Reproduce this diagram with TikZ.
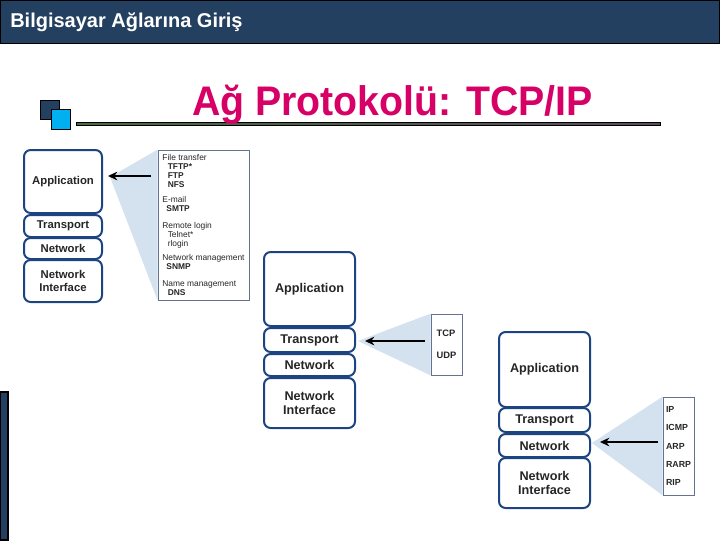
\documentclass[tikz,border=0pt]{standalone}
\usepackage{fontspec}
\setmainfont{Liberation Sans}
\definecolor{headblue}{RGB}{36, 64, 97}
\definecolor{titlered}{RGB}{214, 0, 102}
\definecolor{layerblue}{RGB}{28, 68, 128}
\definecolor{wedgeblue}{RGB}{212, 226, 240}
\definecolor{iconblue}{RGB}{0, 176, 240}
\definecolor{protogray}{RGB}{100, 115, 145}
\definecolor{linegreen}{RGB}{70, 110, 60}
\definecolor{linepurple}{RGB}{95, 75, 100}
\usetikzlibrary{arrows.meta, positioning, backgrounds}
\tikzset{
    layerbox/.style={draw=layerblue, fill=white, line width=1.5pt, rounded corners=5pt, align=center, text=black!85, inner sep=0pt},
    stackone/.style={layerbox, minimum width=58.5pt, font=\bfseries\fontsize{8.5}{10}\selectfont},
    stacktwo/.style={layerbox, minimum width=68.25pt, font=\bfseries\fontsize{9.5}{11}\selectfont},
    protobox/.style={draw=protogray, fill=white, line width=0.6pt, align=left, inner sep=0pt, text=black!85},
    wedge/.style={fill=wedgeblue},
    protoarrow/.style={-{Stealth[length=7pt, width=6.5pt]}, line width=1.5pt},
    iconsq/.style={draw=black, line width=0.7pt},
}

\begin{document}
\begin{tikzpicture}[x=0.75pt, y=-0.75pt]
    \useasboundingbox (0,0) rectangle (720,540);

    % Header
    \draw[fill=headblue, line width=0.8pt] (0.5,0.5) rectangle (719.5,43.5);
    \node[anchor=base west, text=white, font=\bfseries\fontsize{15}{18}\selectfont, inner sep=0pt] (heading) at (10,27) {Bilgisayar Ağlarına Giriş};
    \draw[fill=headblue, line width=0.8pt] (0.5,392) rectangle (8,540);

    % Title
    \draw[iconsq, fill=headblue] (40,100) rectangle (59,119);
    \draw[iconsq, fill=iconblue] (51,109) rectangle (70,129);
    \shade[left color=linegreen, right color=linepurple] (76,122) rectangle (660,125);
    \draw[line width=0.5pt] (76,122) rectangle (660,125);
    \node[anchor=base, text=titlered, font=\bfseries\fontsize{31}{36}\selectfont, inner sep=0pt, xscale=0.95] (title) at (392.5,115) {Ağ Protokolü: TCP/IP};

    % Stack 1
    \node[stackone, minimum height=47.25pt] (app1) at (63,181.5) {Application};
    \node[stackone, minimum height=16.5pt] (tr1) at (63,226) {Transport};
    \node[stackone, minimum height=15.75pt] (net1) at (63,248.5) {Network};
    \node[stackone, minimum height=31.5pt] (ni1) at (63,281) {Network\\Interface};

    % Stack 2
    \node[stacktwo, minimum height=55.5pt] (app2) at (309.5,289) {Application};
    \node[stacktwo, minimum height=18pt] (tr2) at (309.5,340) {Transport};
    \node[stacktwo, minimum height=16.5pt] (net2) at (309.5,365) {Network};
    \node[stacktwo, minimum height=37.5pt] (ni2) at (309.5,403) {Network\\Interface};

    % Stack 3
    \node[stacktwo, minimum height=56.25pt] (app3) at (544.5,369.5) {Application};
    \node[stacktwo, minimum height=18pt] (tr3) at (544.5,420) {Transport};
    \node[stacktwo, minimum height=17.25pt] (net3) at (544.5,445.5) {Network};
    \node[stacktwo, minimum height=37.5pt] (ni3) at (544.5,483) {Network\\Interface};

    % Application protocols
    \node[protobox, minimum width=68.25pt, minimum height=112.5pt, font=\fontsize{6.3}{6.75}\selectfont] (p1) at (203.5,225) {
        File transfer\\
        \hspace*{4pt}\textbf{TFTP*}\\
        \hspace*{4pt}\textbf{FTP}\\
        \hspace*{4pt}\textbf{NFS}\\[4pt]
        E-mail\\
        \hspace*{3pt}\textbf{SMTP}\\[6pt]
        Remote login\\
        \hspace*{4pt}Telnet*\\
        \hspace*{4pt}rlogin\\[4pt]
        Network management\\
        \hspace*{3pt}\textbf{SNMP}\\[6pt]
        Name management\\
        \hspace*{4pt}\textbf{DNS}
    };

    % Transport protocols
    \node[protobox, minimum width=23.25pt, minimum height=45.75pt, font=\bfseries\fontsize{7}{16.5}\selectfont] (p2) at (446.5,344.5) {TCP\\UDP};

    % Network protocols
    \node[protobox, minimum width=23.25pt, minimum height=73.5pt, font=\bfseries\fontsize{6.6}{13.7}\selectfont] (p3) at (678.5,446) {IP\\ICMP\\ARP\\RARP\\RIP};

    % Wedges
    \coordinate (apex1) at (110,177);
    \coordinate (apex2) at (358,341);
    \coordinate (apex3) at (592,443);
    \begin{scope}[on background layer]
        \fill[wedge] (apex1) -- (p1.north west) -- (p1.south west) -- cycle;
        \fill[wedge] (apex2) -- (p2.north west) -- (p2.south west) -- cycle;
        \fill[wedge] (apex3) -- (p3.north west) -- (p3.south west) -- cycle;
    \end{scope}

    % Arrows
    \coordinate (tail1) at (151,176);
    \coordinate (tip1) at (108,176);
    \coordinate (tail2) at (425,341);
    \coordinate (tip2) at (365,341);
    \coordinate (tail3) at (658,442);
    \coordinate (tip3) at (600,442);
    \draw[protoarrow] (tail1) -- (tip1);
    \draw[protoarrow] (tail2) -- (tip2);
    \draw[protoarrow] (tail3) -- (tip3);
\end{tikzpicture}
\end{document}
